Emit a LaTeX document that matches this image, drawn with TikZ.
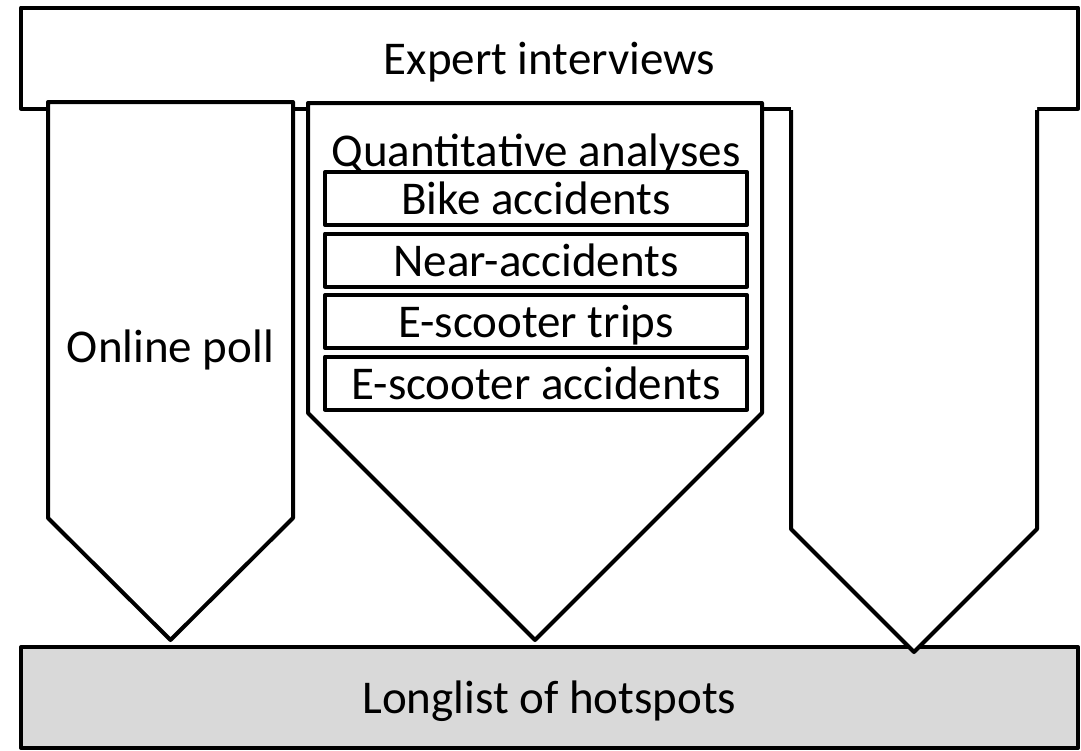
\documentclass[tikz,border=0pt]{standalone}
\usepackage{fontspec}
\setmainfont{Carlito}
\usetikzlibrary{positioning}

\definecolor{hotspotgray}{HTML}{D9D9D9}

\tikzset{
    bigtext/.style={font=\fontsize{47pt}{56pt}\selectfont, inner sep=0pt, text height=40pt, text depth=8pt},
    bar/.style={bigtext, draw, line width=4pt, line join=round, minimum width=1057pt, minimum height=101pt},
    source/.style={bigtext, draw, line width=4pt, line join=round, fill=white, minimum width=422pt, minimum height=53pt},
    funnel/.style={draw, line width=4pt, line join=round, fill=white}
}

\begin{document}
\begin{tikzpicture}[x=1pt, y=-1pt]
\useasboundingbox (0,0) rectangle (1081,750);

% Bars
\node[bar, fill=white] (expert) at (549.5,58) {Expert interviews};
\node[bar, fill=hotspotgray] (longlist) at (549.5,697.5) {Longlist of hotspots};

% Funnels
\draw[funnel] (48,102) -- (293,102) -- (293,518) -- (170.5,640) -- (48,518) -- cycle;
\draw[funnel] (308,103) -- (762,103) -- (762,413) -- (535,640) -- (308,413) -- cycle;
\fill[white] (791,106) -- (1037,106) -- (1037,529) -- (914,652) -- (791,529) -- cycle;
\draw[funnel, fill=none] (791,110) -- (791,529) -- (914,652) -- (1037,529) -- (1037,110);

% Labels
\node[bigtext] (poll) at (170.5,346) {Online poll};
\node[bigtext] (quant) at (536,150) {Quantitative analyses};

% Data sources
\node[source] (bike) at (536,198.5) {Bike accidents};
\node[source, below=4.5pt of bike] (near) {Near-accidents};
\node[source, below=4.5pt of near] (trips) {E-scooter trips};
\node[source, below=4.5pt of trips] (scooter) {E-scooter accidents};

\end{tikzpicture}
\end{document}
